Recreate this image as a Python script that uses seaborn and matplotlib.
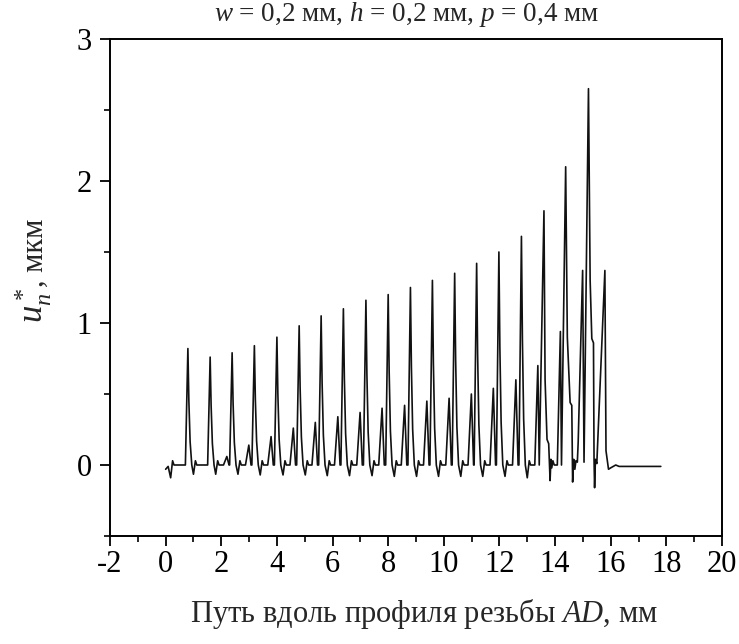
import numpy as np
import pandas as pd
import matplotlib
matplotlib.use("Agg")
import matplotlib.pyplot as plt
import seaborn as sns
from matplotlib.ticker import MultipleLocator

# ---- data ----
main_x = [0.80, 1.60, 2.39, 3.19, 4.00, 4.80, 5.59, 6.39, 7.20, 8.00,
          8.80, 9.59, 10.39, 11.18, 11.98, 12.79]
main_h = [0.82, 0.76, 0.79, 0.84, 0.90, 0.98, 1.05, 1.10, 1.16, 1.20,
          1.25, 1.30, 1.35, 1.42, 1.50, 1.61]
sub_x = [2.20, 2.99, 3.79, 4.59, 5.38, 6.19, 6.99, 7.78, 8.59, 9.39,
         10.19, 10.99, 11.78, 12.59]
sub_h = [0.06, 0.14, 0.20, 0.26, 0.30, 0.34, 0.37, 0.40, 0.42, 0.45,
         0.47, 0.50, 0.54, 0.60]
dip_x = [0.18, 1.00, 1.80, 2.60, 3.40, 4.22, 5.02, 5.81, 6.61, 7.42,
         8.22, 9.02, 9.81, 10.61, 11.40, 12.20, 13.00]
dip_h = [-0.09, -0.065, -0.065, -0.065, -0.07, -0.07, -0.07, -0.075, -0.075,
         -0.075, -0.08, -0.08, -0.08, -0.08, -0.08, -0.08, -0.09]
start_x = [0.00, 0.09]
start_y = [-0.03, -0.01]
tail_x = [13.27, 13.38, 13.43, 13.60, 13.64, 13.71, 13.77, 13.80, 13.82, 13.85,
          13.88, 13.92, 13.97, 14.08, 14.19, 14.23, 14.38, 14.44, 14.54, 14.60,
          14.62, 14.63, 14.67, 14.71, 14.75, 14.80, 14.83, 14.99, 15.04, 15.20,
          15.26, 15.32, 15.38, 15.40, 15.42, 15.45, 15.50, 15.79, 15.83, 15.92,
          16.00, 16.18, 16.30, 17.80]
tail_y = [0.00, 0.70, 0.00, 1.79, 0.60, 0.18, 0.15, 0.00, -0.11, 0.04,
          -0.02, 0.03, 0.00, 0.00, 0.94, 0.00, 2.10, 0.90, 0.44, 0.42,
          0.02, -0.12, 0.04, -0.03, 0.03, 0.02, 0.16, 1.37, 0.02, 2.65,
          1.30, 0.89, 0.86, 0.04, -0.16, 0.04, 0.01, 1.37, 0.10, -0.03,
          -0.02, 0.00, -0.01, -0.01]

# ---- assemble polyline ----
pts = list(zip(start_x, start_y))
for m, h in zip(main_x, main_h):
    pts += [(m - 0.09, 0.0), (m, h), (m + 0.035, 0.55 * h), (m + 0.08, 0.2 * h), (m + 0.14, 0.0)]
for s, h in zip(sub_x, sub_h):
    pts += [(s - 0.12, 0.0), (s, h), (s + 0.08, 0.0)]
for d, h in zip(dip_x, dip_h):
    pts += [(d, h), (d + 0.07, 0.03), (d + 0.12, 0.0)]
pts.sort(key=lambda p: p[0])
pts = pts + list(zip(tail_x, tail_y))
df = pd.DataFrame(pts, columns=["x", "y"])

# ---- style ----
sns.set_theme(style="ticks")
plt.rcParams["font.family"] = ["Liberation Serif", "DejaVu Serif"]
plt.rcParams["mathtext.fontset"] = "custom"
plt.rcParams["mathtext.rm"] = "Liberation Serif"
plt.rcParams["mathtext.it"] = "Liberation Serif:italic"
plt.rcParams["axes.unicode_minus"] = False

W, H = 739, 644
fig = plt.figure(figsize=(W / 100, H / 100), dpi=100)
ax = fig.add_axes([110 / W, 1 - 536 / H, 612 / W, 497 / H])
sns.lineplot(data=df, x="x", y="y", sort=False, estimator=None,
             color="#111111", linewidth=1.2, ax=ax)

ax.set_xlim(-2, 20)
ax.set_ylim(-0.5, 3)
ax.xaxis.set_major_locator(MultipleLocator(2))
ax.xaxis.set_minor_locator(MultipleLocator(1))
ax.set_yticks([0, 1, 2, 3])
ax.yaxis.set_minor_locator(MultipleLocator(0.5))
ax.tick_params(which="major", direction="out", length=7, width=1.3,
               labelsize=22, colors="black")
ax.tick_params(axis="x", which="major", pad=3)
ax.tick_params(axis="y", which="major", pad=6)
ax.tick_params(which="minor", direction="out", length=4, width=1.2, colors="black")
ax.tick_params(top=False, right=False)
for sp in ax.spines.values():
    sp.set_visible(True)
    sp.set_linewidth(1.4)
    sp.set_color("black")
ax.set_xlabel("")
ax.set_ylabel("")

fig.text(424 / W, 1 - 622 / H, "Путь вдоль профиля резьбы $\\mathit{AD}$, мм",
         fontsize=22, ha="center", va="baseline")
fig.text(407 / W, 1 - 21 / H, "$w$ = 0,2 мм, $h$ = 0,2 мм, $p$ = 0,4 мм",
         fontsize=19.5, ha="center", va="baseline")

# y label: large italic symbol followed by the unit
t1 = fig.text(43 / W, 1 - 323 / H, "$u_n^*$", fontsize=25, rotation=90,
              rotation_mode="anchor", ha="left", va="baseline")
fig.canvas.draw()
bb = t1.get_window_extent(fig.canvas.get_renderer())
fig.text(43 / W, (bb.y1 + 1) / H, ", мкм", fontsize=22, rotation=90,
         rotation_mode="anchor", ha="left", va="baseline")

fig.savefig("out.png", dpi=100, facecolor="white")
